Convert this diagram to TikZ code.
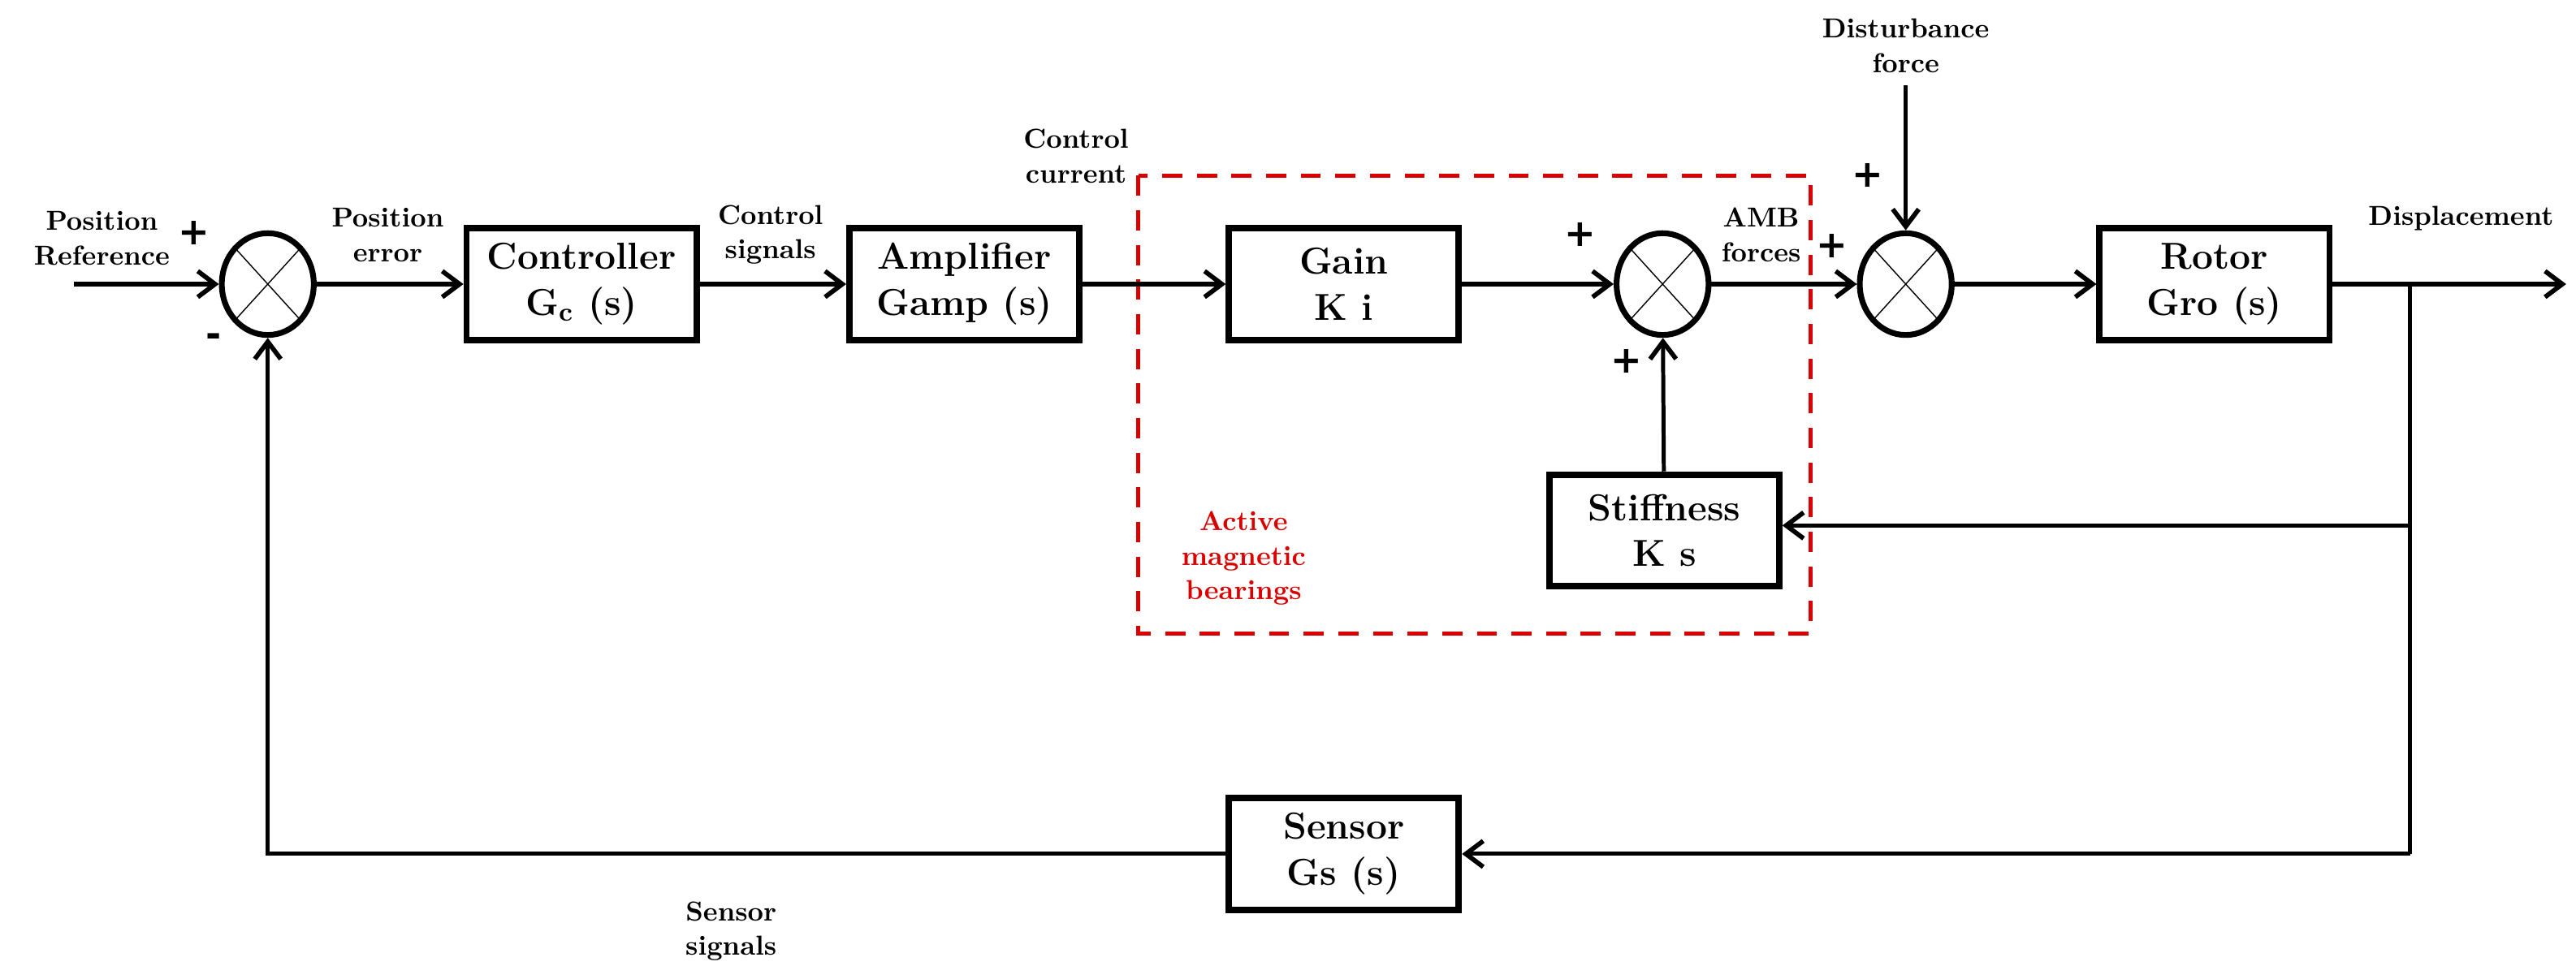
\documentclass[tikz,border=0pt]{standalone}
\usepackage{fontspec}
\newfontfamily\signfont{DejaVu Sans}
\usetikzlibrary{arrows.meta,shapes.geometric}
\begin{document}
\begin{tikzpicture}[x=0.02cm,y=-0.02cm,
  >={Straight Barb[length=6pt,width=9pt,line width=1.6pt]},
  blk/.style={draw,line width=2.2pt,minimum width=2.8cm,minimum height=1.36cm,
    align=center,font=\fontsize{13}{16}\selectfont\bfseries},
  sum/.style={draw,ellipse,line width=2pt,minimum width=1.12cm,minimum height=1.24cm,inner sep=0pt},
  lbl/.style={align=center,font=\fontsize{9.5}{12}\selectfont\bfseries},
  sgn/.style={font=\signfont\fontsize{13}{13}\selectfont\bfseries},
  sig/.style={->,line width=1.8pt},
  fb/.style={->,line width=1.4pt}]
\useasboundingbox (0,0) rectangle (1568,588);
% blocks
\node[blk] (ctrl) at (354,173) {Controller\\G\textsubscript{c} (s)};
\node[blk] (amp) at (587,173) {Amplifier\\Gamp (s)};
\node[blk] (gain) at (818,173) {Gain\\K i};
\node[blk] (stiff) at (1013,323) {Stiffness\\K s};
\node[blk] (rotor) at (1348,173) {Rotor\\Gro (s)};
\node[blk] (sens) at (818,520) {Sensor\\Gs (s)};
% summing junctions
\foreach \n/\x in {s1/163,s2/1012,s3/1160}{
  \node[sum] (\n) at (\x,173) {};
  \draw[line width=0.4pt] (\n.north west) -- (\n.south east)
    (\n.north east) -- (\n.south west);
}
% auxiliary points
\coordinate (in) at (45,173);
\coordinate (dist) at (1160,52);
\coordinate (br) at (1467,173);
\coordinate (out) at (1562,173);
\coordinate (brk) at (1467,320);
\coordinate (brs) at (1467,520);
\coordinate (fbl) at (163,520);
% AMB region
\draw[red!85!black,line width=1.4pt,dash pattern=on 7pt off 5pt]
  (693,107) rectangle (1102,386);
\node[lbl,text=red!85!black] (amb) at (757,340) {Active\\magnetic\\bearings};
% connectors
\draw[sig] (in) -- (s1);
\draw[sig] (s1) -- (ctrl);
\draw[sig] (ctrl) -- (amp);
\draw[sig] (amp) -- (gain);
\draw[sig] (gain) -- (s2);
\draw[sig] (s2) -- (s3);
\draw[sig] (s3) -- (rotor);
\draw[sig] (rotor) -- (out);
\draw[fb] (dist) -- (s3);
\draw[fb] (stiff) -- (s2);
\draw[fb] (brk) -- (stiff.east |- brk);
\draw[line width=1.4pt] (br) -- (brs);
\draw[fb] (brs) -- (sens);
\draw[fb] (sens) -- (fbl) -- (s1);
% labels
\node[lbl] (l1) at (62,145) {Position\\Reference};
\node[lbl] (l2) at (236,143) {Position\\error};
\node[lbl] (l3) at (469,143) {Control\\signals};
\node[lbl] (l4) at (655,95) {Control\\current};
\node[lbl] (l5) at (1072,143) {AMB\\forces};
\node[lbl] (l6) at (1160,28) {Disturbance\\force};
\node[lbl] (l7) at (1498,133) {Displacement};
\node[lbl] (l8) at (445,567) {Sensor\\signals};
% signs
\node[sgn] at (118,142) {+};
\node[sgn] at (130,207) {-};
\node[sgn] at (962,143) {+};
\node[sgn] at (990,220) {+};
\node[sgn] at (1115,150) {+};
\node[sgn] at (1137,107) {+};
\end{tikzpicture}
\end{document}
